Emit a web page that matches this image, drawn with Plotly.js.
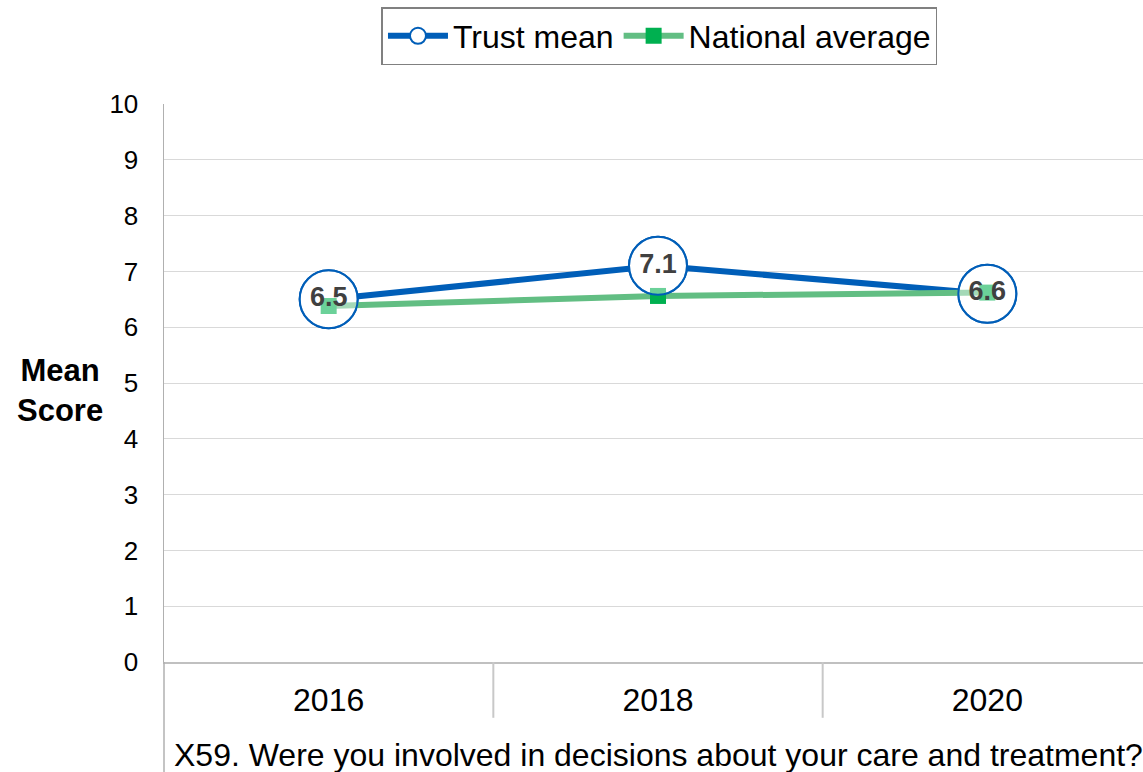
<!DOCTYPE html>
<html>
<head>
<meta charset="utf-8">
<script src="https://cdn.plot.ly/plotly-3.0.1.min.js"></script>
<style>
html,body{margin:0;padding:0;overflow:hidden;background:#fff;}
#chart{width:1160px;height:772px;}
</style>
</head>
<body>
<div id="chart"></div>
<script>
var years = ['2016', '2018', '2020'];
var trustMean = [6.5, 7.1, 6.6];
var trustLabels = ['6.5', '7.1', '6.6'];
var nationalAverage = [6.38, 6.56, 6.62];
var yTickVals = [0, 1, 2, 3, 4, 5, 6, 7, 8, 9, 10];
var questionText = 'X59. Were you involved in decisions about your care and treatment?';

var FONT = 'Liberation Sans, Arial, sans-serif';
var BLUE = '#005EB8';
var GREEN_LINE = '#62BE83';
var GREEN_MARK = '#00B050';

var traces = [
  {
    x: years, y: trustMean, name: 'Trust mean', type: 'scatter', mode: 'lines+markers',
    line: {color: BLUE, width: 6},
    marker: {symbol: 'circle', size: 58, color: '#ffffff', line: {color: BLUE, width: 2}},
    hoverinfo: 'skip'
  },
  {
    x: years, y: nationalAverage, name: 'National average', type: 'scatter', mode: 'lines+markers',
    line: {color: GREEN_LINE, width: 6},
    marker: {symbol: 'square', size: 16, color: GREEN_MARK},
    hoverinfo: 'skip'
  },
  {
    x: years, y: trustMean, type: 'scatter', mode: 'markers+text', showlegend: false,
    marker: {symbol: 'circle', size: 58, color: 'rgba(255,255,255,0.42)', line: {color: BLUE, width: 2}},
    text: trustLabels, textposition: 'middle center',
    textfont: {family: FONT, size: 27, color: '#404040', weight: 'bold'},
    hoverinfo: 'skip'
  }
];

var shapes = [];
for (var i = 1; i < years.length; i++) {
  shapes.push({type: 'line', xref: 'x', yref: 'paper', x0: i - 0.5, x1: i - 0.5, y0: 0, y1: -0.1,
    line: {color: '#c8c8c8', width: 2}});
}
shapes.push({type: 'line', xref: 'paper', yref: 'paper', x0: 0, x1: 0, y0: 0, y1: -0.2,
  line: {color: '#b0b0b0', width: 1.5}});

var layout = {
  width: 1160, height: 772,
  margin: {l: 164, r: 8, t: 103, b: 110},
  paper_bgcolor: '#ffffff', plot_bgcolor: '#ffffff',
  font: {family: FONT, color: '#000000'},
  showlegend: true,
  legend: {
    orientation: 'h', x: 0.5015, xanchor: 'center', y: 1.1717, yanchor: 'top',
    bordercolor: '#808080', borderwidth: 1.5, bgcolor: '#ffffff',
    font: {family: FONT, size: 32, color: '#000000'},
    itemwidth: 60, tracegroupgap: 0
  },
  xaxis: {
    type: 'category', range: [-0.5, 2.5], fixedrange: true,
    showgrid: false, zeroline: false,
    showline: true, linecolor: '#c0c0c0', linewidth: 1.5,
    ticks: '', ticklabelstandoff: 9,
    tickfont: {family: FONT, size: 32, color: '#000000'}
  },
  yaxis: {
    range: [0, 10], tickvals: yTickVals, fixedrange: true,
    showgrid: true, gridcolor: '#d9d9d9', gridwidth: 1,
    zeroline: false, showline: true, linecolor: '#b0b0b0', linewidth: 1.5,
    ticks: '', ticklabelstandoff: 19,
    tickfont: {family: FONT, size: 26, color: '#000000'}
  },
  shapes: shapes,
  annotations: [
    {text: '<b>Mean</b><br><b>Score</b>', xref: 'paper', yref: 'paper', x: -0.105, y: 0.487,
      xanchor: 'center', yanchor: 'middle', showarrow: false,
      font: {family: FONT, size: 31, color: '#000000'}},
    {text: questionText, xref: 'paper', yref: 'paper', x: 0.008, y: -0.166,
      xanchor: 'left', yanchor: 'middle', showarrow: false,
      font: {family: FONT, size: 32, color: '#000000'}}
  ]
};

Plotly.newPlot('chart', traces, layout, {displayModeBar: false, staticPlot: true});
</script>
</body>
</html>
